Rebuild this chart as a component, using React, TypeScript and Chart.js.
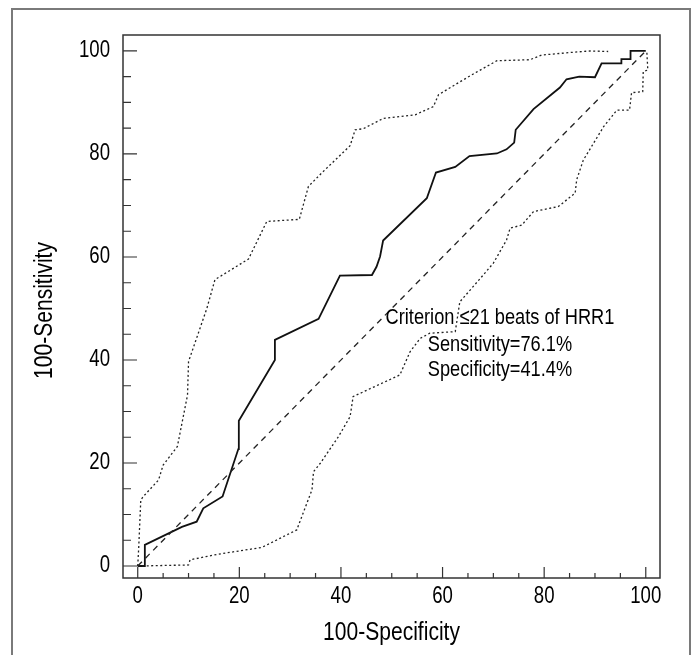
import React, { useEffect, useRef } from "react";
import { Chart, registerables } from "chart.js";

Chart.register(...registerables);

const FONT = "'Liberation Sans', Arial, sans-serif";
const NARROW = 0.81; // horizontal condensing to mimic a narrow sans face

const xTickValues = [0, 20, 40, 60, 80, 100];
const yTickValues = [0, 20, 40, 60, 80, 100];
const xTickLabels = ["0", "20", "40", "60", "80", "100"];
const yTickLabels = ["0", "20", "40", "60", "80", "100"];
const xTitle = "100-Specificity";
const yTitle = "100-Sensitivity";

// ROC curve (solid)
const rocX = [0, 1.4, 1.4, 8.7, 11.6, 12.9, 16.7, 19.8, 19.9, 27.0, 27.0, 35.6, 39.8, 46.1, 47.0, 47.7, 48.3, 56.9, 58.7, 62.5, 65.3, 70.7, 72.6, 74.1, 74.4, 77.9, 83.1, 84.4, 86.9, 90.0, 91.3, 95.2, 95.2, 97.0, 97.0, 100];
const rocY = [0, 0, 4.1, 7.6, 8.6, 11.2, 13.5, 22.7, 28.2, 40.0, 43.9, 48.0, 56.4, 56.5, 58.1, 60.1, 63.2, 71.4, 76.4, 77.5, 79.6, 80.1, 80.9, 82.2, 84.7, 88.7, 92.9, 94.5, 95.0, 94.9, 97.6, 97.6, 98.4, 98.4, 100, 100];

// Upper confidence bound (dotted)
const upperX = [0, 0.2, 0.6, 1.1, 4.1, 5.0, 7.8, 9.8, 10.0, 13.6, 15.2, 21.8, 25.4, 31.8, 33.6, 36.2, 41.8, 42.8, 44.4, 48.3, 54.6, 58.2, 59.2, 63.4, 66.7, 70.7, 77.2, 79.5, 85.1, 89.0, 92.6];
const upperY = [0, 3.7, 12.8, 13.5, 16.7, 19.6, 23.2, 33.2, 39.7, 50.0, 55.6, 59.6, 66.9, 67.3, 73.7, 76.3, 81.6, 84.7, 84.9, 86.9, 87.6, 89.2, 91.5, 94.0, 95.9, 98.1, 98.3, 99.2, 99.7, 100, 99.9];

// Lower confidence bound (dotted)
const lowerX = [0, 10.0, 10.3, 15.9, 24.4, 31.3, 34.3, 34.6, 35.9, 39.5, 41.8, 42.4, 51.6, 53.6, 55.6, 57.5, 62.5, 63.4, 67.4, 70.0, 72.6, 73.3, 75.6, 77.9, 82.8, 86.1, 86.4, 87.7, 91.7, 94.3, 96.8, 97.2, 99.4, 99.5, 100.4, 100.2];
const lowerY = [0, 0.2, 1.2, 2.3, 3.6, 7.0, 14.8, 18.3, 19.9, 25.1, 29.0, 32.9, 37.1, 41.6, 44.2, 45.2, 45.5, 51.3, 55.8, 58.8, 63.3, 65.6, 66.2, 68.8, 69.8, 72.4, 75.0, 78.8, 85.3, 88.5, 88.5, 91.9, 92.1, 96.0, 96.3, 100];

// Reference diagonal
const diagX = [0, 100];
const diagY = [0, 100];

const noteLines = ["Criterion \u226421 beats of HRR1", "Sensitivity=76.1%", "Specificity=41.4%"];
const NOTE_X = 71.3;
const NOTE_Y = [48.2, 42.9, 38.1];

const toPts = (xs: number[], ys: number[]) => xs.map((x, i) => ({ x, y: ys[i] }));

function drawText(
  ctx: CanvasRenderingContext2D,
  text: string,
  x: number,
  y: number,
  size: number,
  align: CanvasTextAlign,
  rotation = 0
) {
  ctx.save();
  ctx.translate(x, y);
  if (rotation) ctx.rotate(rotation);
  ctx.scale(NARROW, 1);
  ctx.font = `${size}px ${FONT}`;
  ctx.fillStyle = "#000000";
  ctx.textAlign = align;
  ctx.textBaseline = "middle";
  ctx.fillText(text, 0, 0);
  ctx.restore();
}

export default function App() {
  const ref = useRef<HTMLCanvasElement>(null);

  useEffect(() => {
    if (!ref.current) return;

    const framePlugin = {
      id: "frame",
      beforeDraw(chart: any) {
        const ctx = chart.ctx;
        ctx.save();
        ctx.fillStyle = "#ffffff";
        ctx.fillRect(0, 0, chart.width, chart.height);
        ctx.strokeStyle = "#7a7a7a";
        ctx.lineWidth = 2;
        ctx.strokeRect(12, 9, 678, 700);
        ctx.restore();
      },
      afterDraw(chart: any) {
        const { ctx, chartArea: a, scales } = chart;
        ctx.save();
        ctx.strokeStyle = "#333333";
        ctx.lineWidth = 1.5;
        ctx.strokeRect(a.left, a.top, a.right - a.left, a.bottom - a.top);
        ctx.lineWidth = 1.2;
        ctx.beginPath();
        for (let v = 0; v <= 100; v += 5) {
          const major = v % 20 === 0;
          const px = scales.x.getPixelForValue(v);
          ctx.moveTo(px, a.bottom);
          ctx.lineTo(px, a.bottom - (major ? 11 : 5));
          const py = scales.y.getPixelForValue(v);
          ctx.moveTo(a.left, py);
          ctx.lineTo(a.left + (major ? 14 : 8), py);
        }
        ctx.stroke();
        ctx.restore();

        // tick labels
        xTickValues.forEach((v, i) => {
          drawText(ctx, xTickLabels[i], scales.x.getPixelForValue(v), a.bottom + 19, 23, "center");
        });
        yTickValues.forEach((v, i) => {
          drawText(ctx, yTickLabels[i], a.left - 13, scales.y.getPixelForValue(v), 23, "right");
        });
        // axis titles
        drawText(ctx, xTitle, (a.left + a.right) / 2, a.bottom + 55, 26, "center");
        drawText(ctx, yTitle, 45, (a.top + a.bottom) / 2 + 4, 26, "center", -Math.PI / 2);
        // annotation
        noteLines.forEach((t, i) => {
          drawText(ctx, t, scales.x.getPixelForValue(NOTE_X), scales.y.getPixelForValue(NOTE_Y[i]), 22.5, "center");
        });
      },
    };

    const dotted = {
      showLine: true,
      pointRadius: 0,
      borderColor: "#222222",
      borderWidth: 1.3,
      borderDash: [2, 2.5],
      tension: 0,
      fill: false,
    };

    const chart = new Chart(ref.current, {
      type: "scatter",
      data: {
        datasets: [
          { ...dotted, label: "Lower", data: toPts(lowerX, lowerY) },
          { ...dotted, label: "Upper", data: toPts(upperX, upperY) },
          {
            label: "Diagonal",
            data: toPts(diagX, diagY),
            showLine: true,
            pointRadius: 0,
            borderColor: "#222222",
            borderWidth: 1.3,
            borderDash: [6, 5],
            fill: false,
          },
          {
            label: "ROC",
            data: toPts(rocX, rocY),
            showLine: true,
            pointRadius: 0,
            borderColor: "#111111",
            borderWidth: 1.8,
            tension: 0,
            fill: false,
          },
        ],
      },
      options: {
        animation: false,
        responsive: true,
        maintainAspectRatio: false,
        layout: { padding: { left: 0, top: 35, right: 35, bottom: 0 } },
        plugins: { legend: { display: false }, tooltip: { enabled: false } },
        scales: {
          x: {
            type: "linear",
            min: -2.9,
            max: 102.8,
            grid: { display: false, drawTicks: false },
            border: { display: false },
            afterBuildTicks: (s: any) => {
              s.ticks = xTickValues.map((v) => ({ value: v }));
            },
            afterFit: (s: any) => {
              s.height = 77;
            },
            ticks: { display: false },
            title: { display: false },
          },
          y: {
            type: "linear",
            min: -2.33,
            max: 103.1,
            grid: { display: false, drawTicks: false },
            border: { display: false },
            afterBuildTicks: (s: any) => {
              s.ticks = yTickValues.map((v) => ({ value: v }));
            },
            afterFit: (s: any) => {
              s.width = 123;
            },
            ticks: { display: false },
            title: { display: false },
          },
        },
      },
      plugins: [framePlugin],
    } as any);

    return () => chart.destroy();
  }, []);

  return (
    <div style={{ position: "absolute", left: 0, top: 0, width: 695, height: 655 }}>
      <canvas ref={ref} />
    </div>
  );
}
